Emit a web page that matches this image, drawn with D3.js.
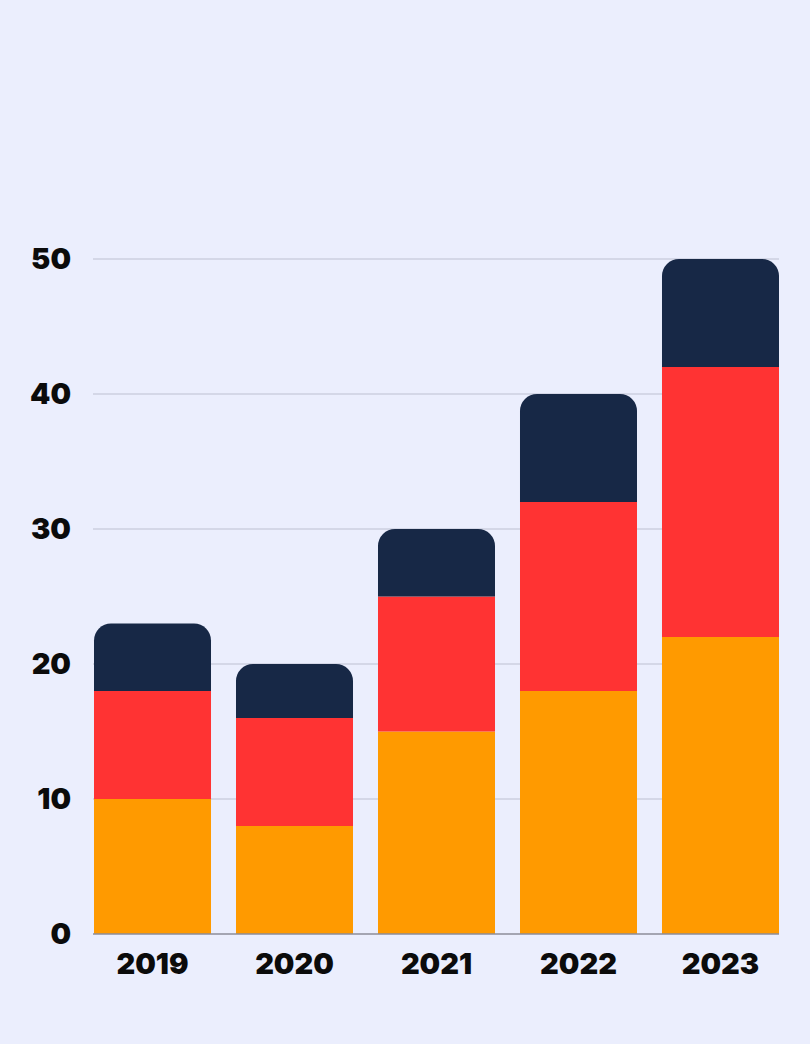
<!DOCTYPE html>
<html><head><meta charset="utf-8">
<script src="https://cdn.jsdelivr.net/npm/d3@7"></script>
<style>
html,body{margin:0;padding:0;background:#EBEEFD;}
svg{display:block;}
text{font-family:Inter,Roboto,"Noto Sans",sans-serif;font-weight:900;fill:#0b0b0b;}
</style></head>
<body>
<svg id="c" width="810" height="1044"></svg>
<script>
const years = ["2019","2020","2021","2022","2023"];
const seriesA = [10, 8, 15, 18, 22];   // orange
const seriesB = [8, 8, 10, 14, 20];    // red
const seriesC = [5, 4, 5, 8, 8];       // navy
const yTicks = [0, 10, 20, 30, 40, 50];
const colors = ["#FF9A00", "#FF3333", "#172846"];

const svg = d3.select("#c");
const W = 810, H = 1044;
const x = d3.scaleBand().domain(years).range([94, 779]).paddingInner(0.176).paddingOuter(0);
const y = d3.scaleLinear().domain([0, 50]).range([934, 259]);

svg.append("rect").attr("width", W).attr("height", H).attr("fill", "#EBEEFD");

// gridlines
svg.append("g").selectAll("line").data(yTicks.filter(d => d > 0)).join("line")
  .attr("x1", 93).attr("x2", 779)
  .attr("y1", d => y(d)).attr("y2", d => y(d))
  .attr("stroke", "#BDC0D2").attr("stroke-width", 1.2);

const rows = years.map((yr, i) => ({year: yr, a: seriesA[i], b: seriesB[i], c: seriesC[i]}));
const stack = d3.stack().keys(["a", "b", "c"])(rows);

const r = 17;
function roundTop(x0, y0, w, h, r) {
  const p = d3.path();
  p.moveTo(x0, y0 + h);
  p.lineTo(x0, y0 + r);
  p.arcTo(x0, y0, x0 + r, y0, r);
  p.lineTo(x0 + w - r, y0);
  p.arcTo(x0 + w, y0, x0 + w, y0 + r, r);
  p.lineTo(x0 + w, y0 + h);
  p.closePath();
  return p.toString();
}

stack.forEach((s, si) => {
  const g = svg.append("g").attr("fill", colors[si]);
  if (si < 2) {
    g.selectAll("rect").data(s).join("rect")
      .attr("x", d => x(d.data.year))
      .attr("y", d => y(d[1]))
      .attr("width", x.bandwidth())
      .attr("height", d => y(d[0]) - y(d[1]));
  } else {
    g.selectAll("path").data(s).join("path")
      .attr("d", d => roundTop(x(d.data.year), y(d[1]), x.bandwidth(), y(d[0]) - y(d[1]), r));
  }
});

// baseline
svg.append("line").attr("x1", 93).attr("x2", 779).attr("y1", y(0)).attr("y2", y(0))
  .attr("stroke", "#8C8D99").attr("stroke-width", 1.5);

// y labels
svg.append("g").selectAll("text").data(yTicks).join("text")
  .attr("x", 71).attr("y", d => y(d)).attr("dy", "0.36em")
  .attr("text-anchor", "end").attr("font-size", 29)
  .text(d => d);

// x labels
svg.append("g").selectAll("text").data(years).join("text")
  .attr("x", d => x(d) + x.bandwidth() / 2).attr("y", 974)
  .attr("text-anchor", "middle").attr("font-size", 29)
  .text(d => d);
</script>
</body></html>
